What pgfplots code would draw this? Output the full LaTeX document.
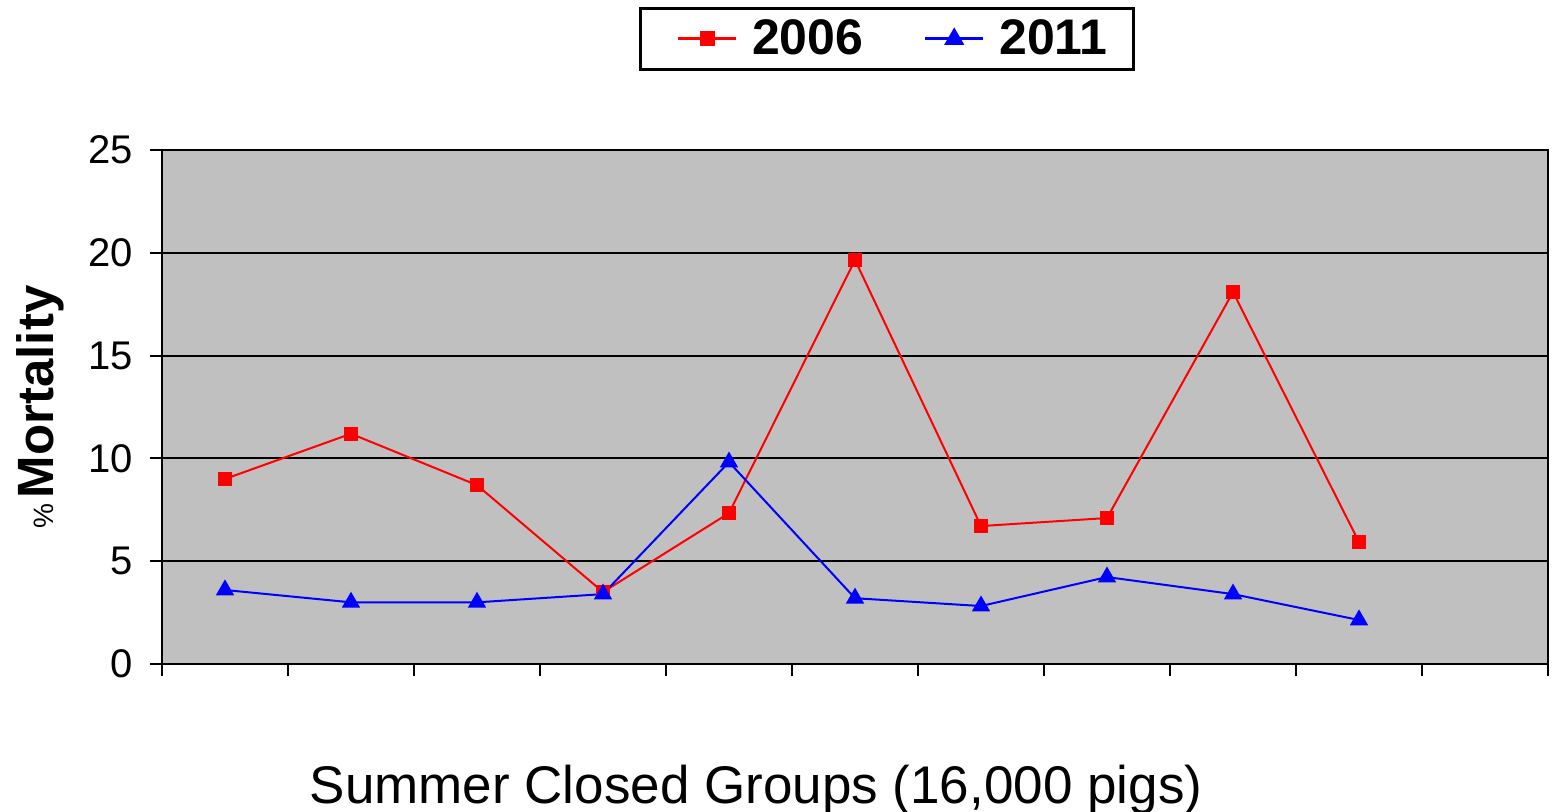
\documentclass[border=0pt]{standalone}
\usepackage{fontspec}
\setmainfont{Liberation Sans}
\usepackage{pgfplots}
\pgfplotsset{compat=1.18}
\begin{document}
\begin{tikzpicture}
\path[use as bounding box] (-81pt,-73.5pt) rectangle (697pt,332pt);
\begin{axis}[
  at={(0,0)}, anchor=south west,
  scale only axis, width=693pt, height=257pt,
  xmin=0.5, xmax=11.5, ymin=0, ymax=25,
  xtick={0.5,1.5,...,11.5}, xticklabels={},
  ytick={0,5,10,15,20,25},
  tick pos=left,
  tick align=outside, major tick length=6pt,
  tick style={black, line width=1pt},
  axis line style={black, line width=1pt},
  ymajorgrids, grid style={black, line width=1pt},
  axis background/.style={fill={rgb,255:red,192;green,192;blue,192}},
  /pgf/number format/assume math mode=true,
  yticklabel style={font=\fontsize{20}{24}\selectfont, xshift=-5pt},
  xlabel={Summer Closed Groups (16,000 pigs)},
  xlabel style={font=\fontsize{26.5}{30}\selectfont, at={(axis description cs:0.4286,-0.2704)}, anchor=base},
  ylabel={{\fontsize{14}{16}\selectfont\%} {\fontsize{25.5}{30}\selectfont\bfseries Mortality}},
  ylabel style={at={(axis description cs:-0.0786,0.5)}, anchor=base},
  legend columns=2,
  legend style={at={(axis description cs:0.523,1.216)}, anchor=center,
    draw=black, line width=1.5pt, fill=white,
    font=\fontsize{25}{28}\selectfont\bfseries,
    nodes={inner sep=0pt},
    inner xsep=13pt, inner ysep=6pt,
    /tikz/every even column/.append style={column sep=25pt}},
  legend image code/.code={\path (-5.5pt,0pt) (36.5pt,0pt);\draw[mark repeat=2,mark phase=2,line width=1.5pt] plot coordinates {(0pt,0pt) (14.5pt,0pt) (29pt,0pt)};},
]
\addplot[red, line width=1pt, mark=square*, mark size=3pt, mark options={solid}] coordinates {
(1,9.0) (2,11.2) (3,8.7) (4,3.5) (5,7.34) (6,19.65) (7,6.71) (8,7.1) (9,18.09) (10,5.93)};
\addlegendentry{2006}
\addplot[blue, line width=1pt, mark=triangle*, mark size=4.3pt] coordinates {
(1,3.6) (2,3.0) (3,3.0) (4,3.4) (5,9.82) (6,3.2) (7,2.82) (8,4.23) (9,3.4) (10,2.14)};
\addlegendentry{2011}
\end{axis}
\end{tikzpicture}
\end{document}
